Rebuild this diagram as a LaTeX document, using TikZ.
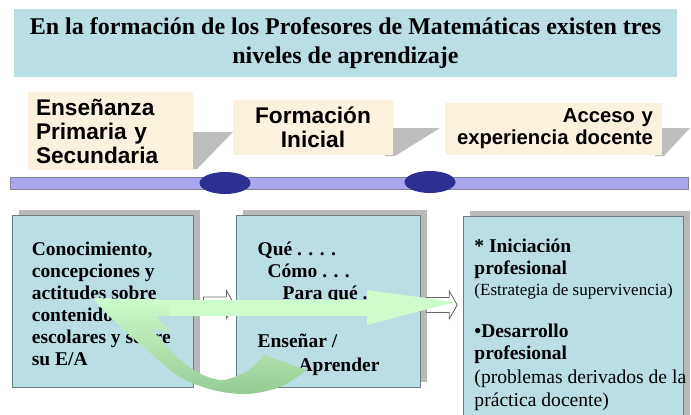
\documentclass[tikz,border=0pt]{standalone}
\usepackage{fontspec}
\setmainfont{Liberation Serif}
\newfontfamily\tagfont{Liberation Sans}
\usepackage{tikz}
\usetikzlibrary{positioning, calc, shapes.geometric, shadows}

\definecolor{tealbg}{RGB}{185,222,228}
\definecolor{beige}{RGB}{252,241,220}
\definecolor{shadegray}{RGB}{190,190,190}
\definecolor{barfill}{RGB}{170,166,240}
\definecolor{barline}{RGB}{130,130,150}
\definecolor{navy}{RGB}{45,48,145}
\definecolor{boxline}{RGB}{110,125,130}
\definecolor{greenpale}{RGB}{205,252,205}
\definecolor{greendark}{RGB}{148,204,148}

\begin{document}
\begin{tikzpicture}[x=0.75pt, y=-0.75pt,
  titlebox/.style={fill=tealbg, minimum width=497.25pt, minimum height=51pt, inner sep=0pt,
    align=center, font=\bfseries\fontsize{18}{21.5}\selectfont},
  tagbox/.style={fill=beige, inner ysep=0pt, font=\tagfont\bfseries\fontsize{17}{18}\selectfont},
  tagshade/.style={fill=shadegray},
  levelbox/.style={fill=tealbg, draw=boxline, line width=0.6pt, inner sep=0pt,
    general shadow={fill=gray!55, shadow xshift=5pt, shadow yshift=3.75pt}},
  boxtext/.style={inner sep=0pt, align=left, font=\bfseries\fontsize{14.6}{16.5}\selectfont},
  notetext/.style={inner sep=0pt, align=left, font=\fontsize{14.7}{17.25}\selectfont},
  hollowarrow/.style={draw=gray!80!black, fill=white, line width=0.6pt},
  milestone/.style={ellipse, fill=navy, minimum width=38.25pt, minimum height=16.5pt, inner sep=0pt}
]
  \clip (0,0) rectangle (691,414);

  % titulo
  \node (titulo) [titlebox] at (345.5,43)
    {En la formación de los Profesores de Matemáticas existen tres\\niveles de aprendizaje};

  % etapas
  \fill[tagshade] (185,132) -- (233,132) -- (197,169) -- (185,169) -- cycle;
  \fill[tagshade] (385,128) -- (440,128) -- (395,156) -- (385,156) -- cycle;
  \fill[tagshade] (655,128) -- (690,128) -- (664,156) -- (655,156) -- cycle;
  \node (etapa1) [tagbox, minimum width=123.75pt, minimum height=58.5pt, text width=111.75pt,
    inner xsep=6pt, align=left] at (110.5,131) {Enseñanza\\Primaria y\\Secundaria};
  \node (etapa2) [tagbox, minimum width=120pt, minimum height=41.25pt, align=center]
    at (313,127.5) {Formación\\Inicial};
  \node (etapa3) [tagbox, font=\tagfont\bfseries\fontsize{15.2}{16.5}\selectfont,
    minimum width=162.75pt, minimum height=39pt, text width=149.25pt,
    inner xsep=6.75pt, align=right] at (553.5,129) {Acceso y\\experiencia docente};

  % linea de tiempo
  \draw[draw=barline, fill=barfill] (10,177) rectangle (688,189);
  \node (hito1) [milestone] at (225,183) {};
  \node (hito2) [milestone] at (430,182) {};

  % niveles
  \node (boxA) [levelbox, minimum width=135.75pt, minimum height=129pt] at (102.5,301) {};
  \node (boxB) [levelbox, minimum width=138pt, minimum height=129pt, right=32.25pt of boxA] {};
  \node (boxC) [levelbox, minimum width=165pt, minimum height=156pt,
    right=31.5pt of boxB.north east, anchor=north west, yshift=-0.75pt] {};

  \node (textoA) [boxtext, below right=20pt and 15pt of boxA.north west]
    {Conocimiento,\\concepciones y\\actitudes sobre\\contenidos\\escolares y sobre\\su E/A};
  \node (textoB) [boxtext, below right=20pt and 15.75pt of boxB.north west]
    {Qué . . . .\\\hspace*{7.5pt}Cómo . . .\\\hspace*{18.75pt}Para qué .\\[19.5pt]Enseñar /\\[1.5pt]\hspace*{30.75pt}Aprender};
  \node (inicia) [boxtext, below right=17.25pt and 8.25pt of boxC.north west]
    {* Iniciación\\profesional};
  \node (estrat) [notetext, font=\fontsize{12.75}{15}\selectfont,
    below right=57pt and 8.25pt of boxC.north west, anchor=west] {(Estrategia de supervivencia)};
  \node (desarr) [boxtext, below right=81pt and 8.25pt of boxC.north west]
    {•Desarrollo\\profesional};
  \node (proble) [notetext, below right=115.5pt and 8.25pt of boxC.north west]
    {(problemas derivados de la\\práctica docente)};

  % flechas huecas entre niveles
  \coordinate (pasoAB) at ($(boxA.east)+(10,3.5)$);
  \coordinate (pasoBC) at ($(boxB.east)+(5,4)$);
  \foreach \p in {pasoAB, pasoBC}
    \draw[hollowarrow] (\p) ++(0,-7.5) -- ++(23,0) -- ++(0,-6.5) -- ++(8,14) -- ++(-8,14)
      -- ++(0,-6.5) -- ++(-23,0) -- cycle;

  % flechas verdes
  \fill[greenpale] (120,300) -- (367,300) -- (367,290) -- (455,302) -- (367,325) -- (367,316)
    -- (120,316) -- cycle;
  \shade[top color=greenpale, bottom color=greendark] (93,298) -- (170,300) -- (170,316)
    -- (156,316) -- (172,333)
    -- plot[smooth] coordinates {(151,328) (173,353) (197,372) (222,380) (247,371) (264,355)}
    -- plot[smooth] coordinates {(307,370) (280,387) (247,394) (213,390) (180,377) (147,350) (113,320) (93,298)}
    -- cycle;
\end{tikzpicture}
\end{document}
